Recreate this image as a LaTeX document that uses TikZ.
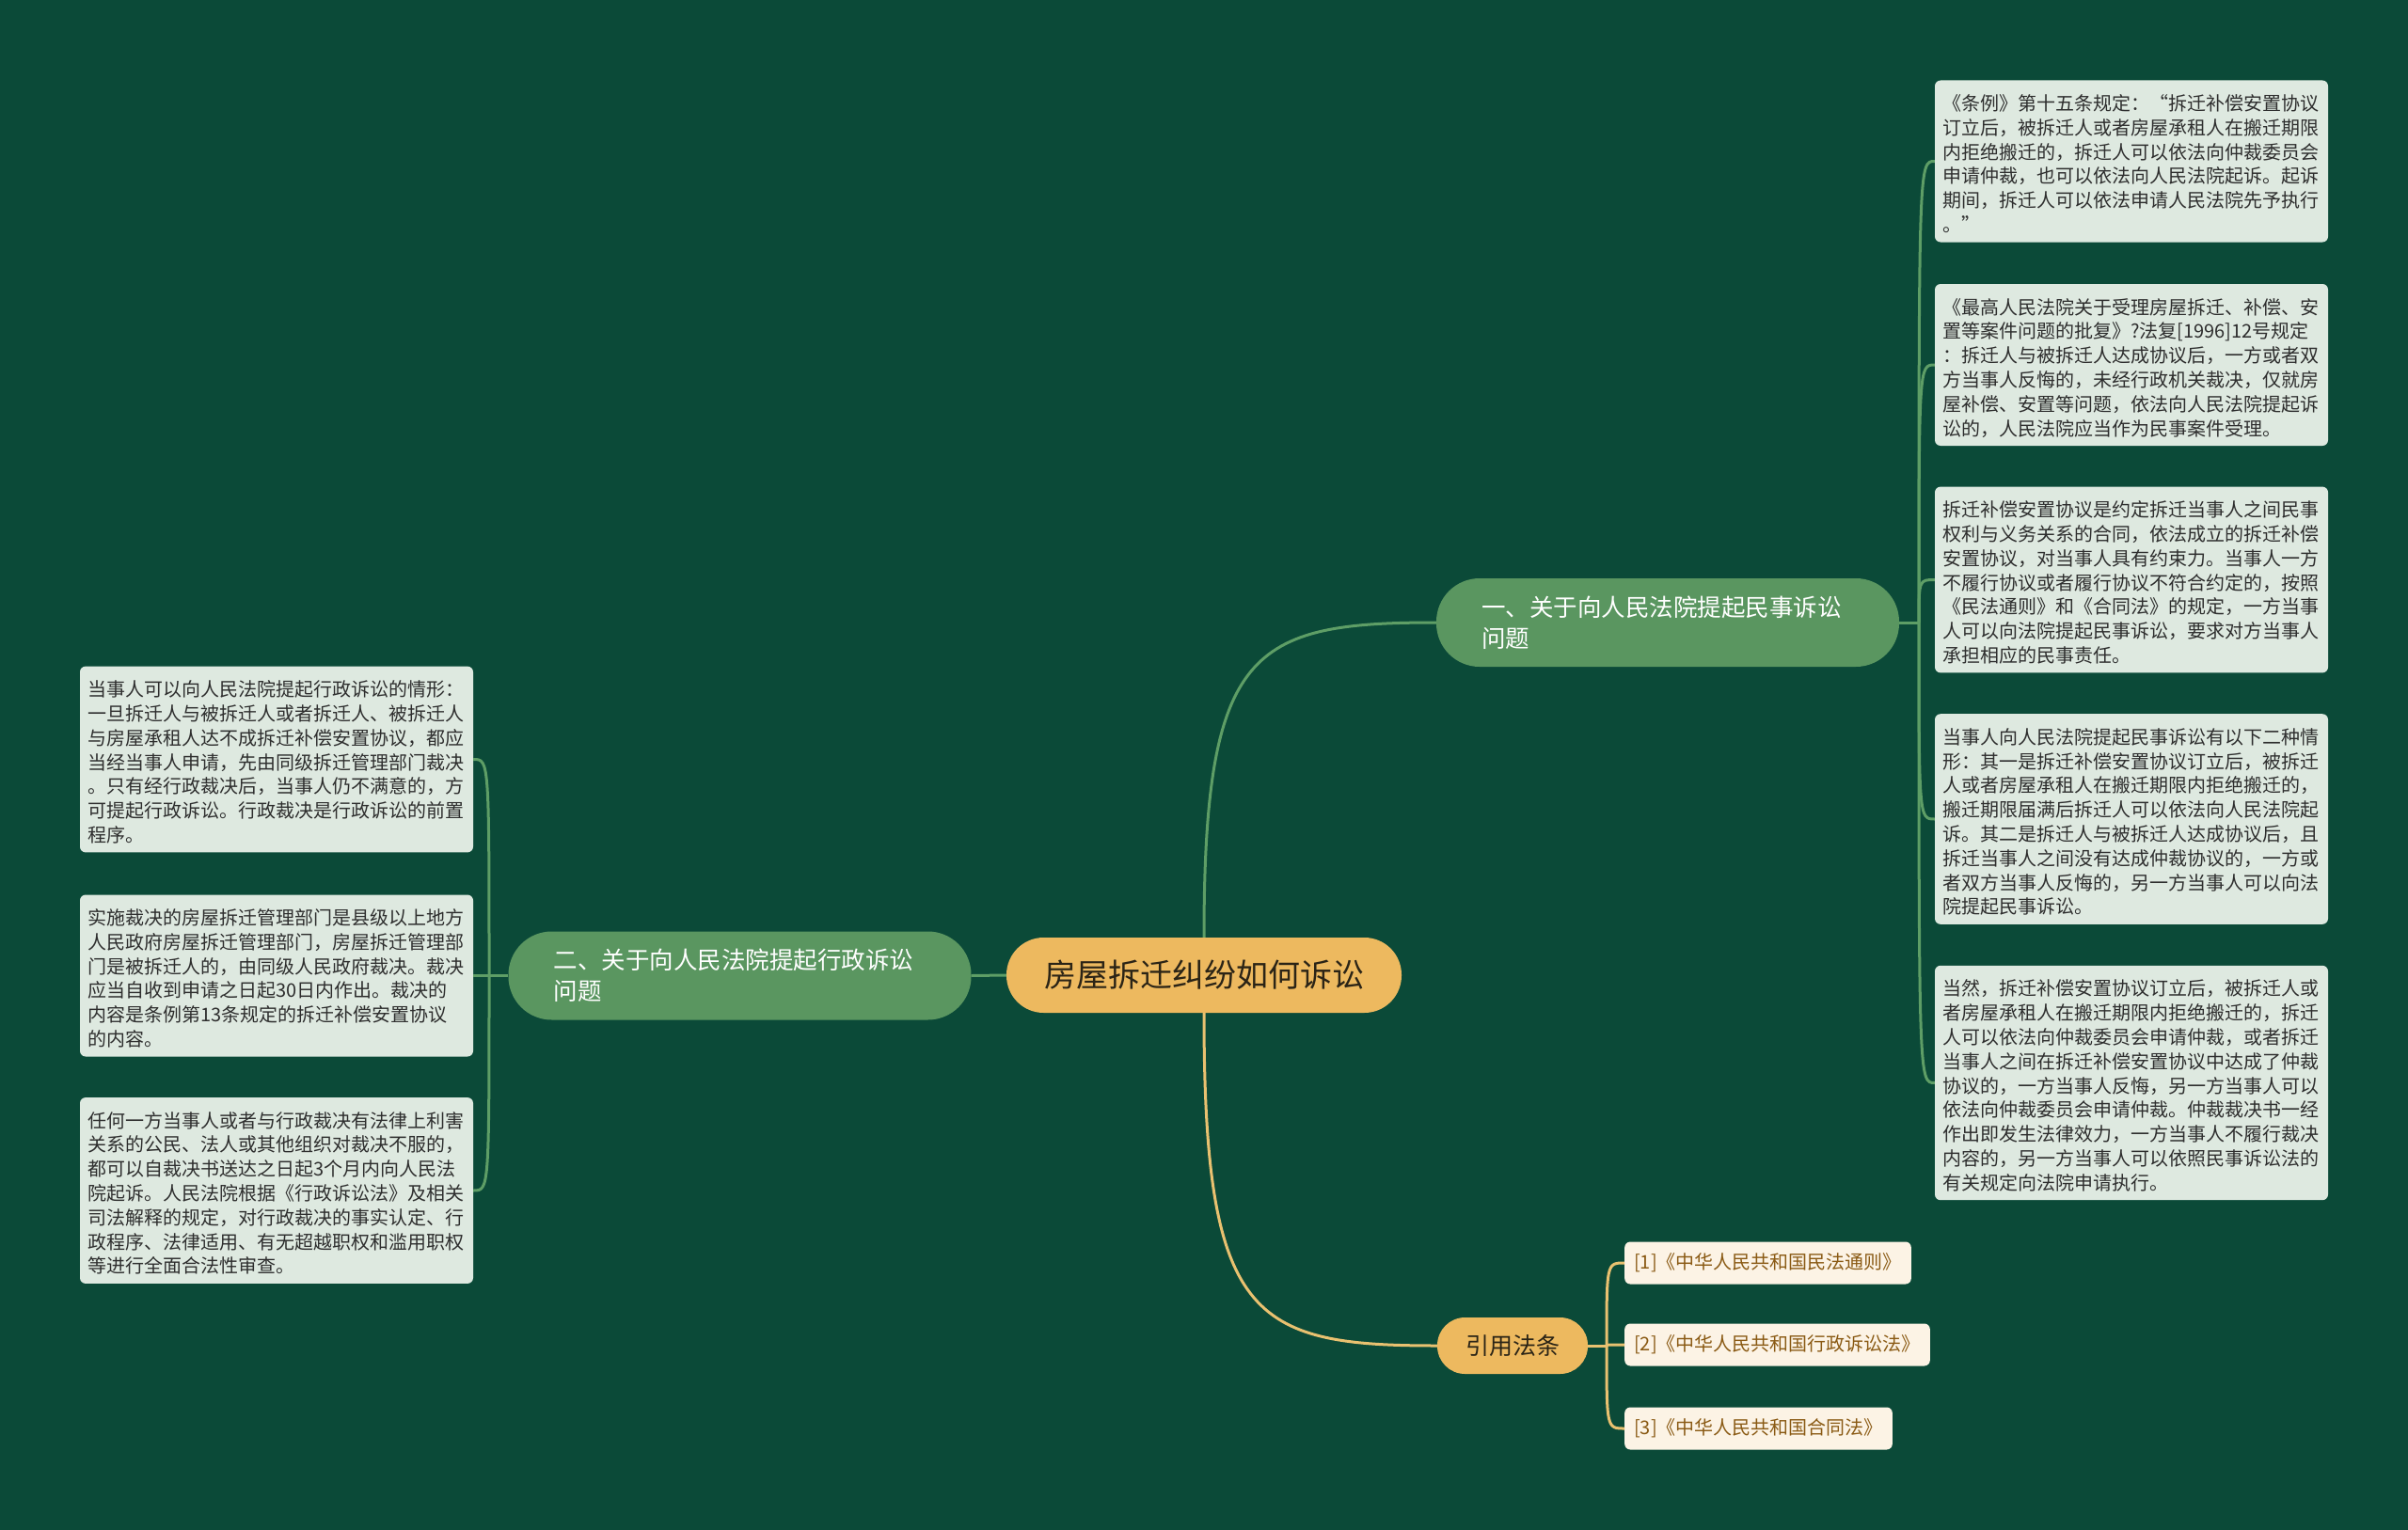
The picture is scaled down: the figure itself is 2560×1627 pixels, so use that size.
\documentclass[tikz,border=0pt]{standalone}
\usepackage{fontspec}
\setmainfont{Noto Sans CJK SC}
\definecolor{bgc}{HTML}{0B4A38}
\definecolor{brc}{HTML}{5A9660}
\definecolor{orc}{HTML}{EDB95F}
\definecolor{leafc}{HTML}{DEE9E0}
\definecolor{leaftext}{HTML}{2E2E2E}
\definecolor{citec}{HTML}{FCF3E5}
\definecolor{citetext}{HTML}{8A5A14}
\definecolor{glinec}{HTML}{5E9E66}
\definecolor{ylinec}{HTML}{E9C170}
\definecolor{maintext}{HTML}{2B2416}
\newcommand\lfirst{\rule{0pt}{25pt}}
\newcommand\llast{\rule[-4pt]{0pt}{4pt}}
\begin{document}
\begin{tikzpicture}[x=1pt,y=-1pt,
  leafbox/.style={fill=leafc, rounded corners=6pt, text=leaftext,
    font=\fontsize{20pt}{25.8pt}\selectfont, text width=402pt, align=left,
    inner xsep=8pt, inner ysep=7pt},
  brnode/.style={fill=brc, text=white, rounded corners=46pt,
    font=\fontsize{25.5pt}{33pt}\selectfont, text width=396pt, align=left,
    inner xsep=48pt, inner ysep=0pt, minimum height=94pt},
  mainnode/.style={fill=orc, text=maintext, rounded corners=39.5pt,
    minimum width=420pt, minimum height=80pt, inner sep=0pt,
    font=\fontsize{34pt}{40pt}\selectfont},
  refnode/.style={fill=orc, text=maintext, rounded corners=29.5pt,
    minimum width=160pt, minimum height=60pt, inner sep=0pt,
    font=\fontsize{25pt}{30pt}\selectfont},
  citebox/.style={fill=citec, text=citetext, rounded corners=6pt,
    font=\fontsize{20pt}{25pt}\selectfont, inner xsep=10pt, inner ysep=0pt,
    minimum height=45pt, anchor=west},
  gline/.style={draw=glinec, line width=3pt},
  yline/.style={draw=ylinec, line width=3pt}
]
\fill[bgc] (0,0) rectangle (2560,1627);
\useasboundingbox (0,0) rectangle (2560,1627);

% central node
\node[mainnode] (c) at (1280,1037) {房屋拆迁纠纷如何诉讼};

% branches
\node[brnode] (b1) at (1773,662) {一、关于向人民法院提起民事诉讼\\问题};
\node[brnode] (b2) at (786.5,1037.5) {二、关于向人民法院提起行政诉讼\\问题};
\node[refnode] (b3) at (1608,1431) {引用法条};

% right leaves
\node[leafbox] (r1) at (2266,171.5) {\lfirst{}《条例》第十五条规定\mbox{：“}拆迁补偿安置协议\\订立后，被拆迁人或者房屋承租人在搬迁期限\\内拒绝搬迁的，拆迁人可以依法向仲裁委员会\\申请仲裁，也可以依法向人民法院起诉。起诉\\期间，拆迁人可以依法申请人民法院先予执行\\。”\llast{}};
\node[leafbox] (r2) at (2266,388) {\lfirst{}《最高人民法院关于受理房屋拆迁、补偿、安\\置等案件问题的批复》?法复[1996]12号规定\\：拆迁人与被拆迁人达成协议后，一方或者双\\方当事人反悔的，未经行政机关裁决，仅就房\\屋补偿、安置等问题，依法向人民法院提起诉\\讼的，人民法院应当作为民事案件受理。\llast{}};
\node[leafbox] (r3) at (2266,616.5) {\lfirst{}拆迁补偿安置协议是约定拆迁当事人之间民事\\权利与义务关系的合同，依法成立的拆迁补偿\\安置协议，对当事人具有约束力。当事人一方\\不履行协议或者履行协议不符合约定的，按照\\《民法通则》和《合同法》的规定，一方当事\\人可以向法院提起民事诉讼，要求对方当事人\\承担相应的民事责任。\llast{}};
\node[leafbox] (r4) at (2266,871) {\lfirst{}当事人向人民法院提起民事诉讼有以下二种情\\形：其一是拆迁补偿安置协议订立后，被拆迁\\人或者房屋承租人在搬迁期限内拒绝搬迁的，\\搬迁期限届满后拆迁人可以依法向人民法院起\\诉。其二是拆迁人与被拆迁人达成协议后，且\\拆迁当事人之间没有达成仲裁协议的，一方或\\者双方当事人反悔的，另一方当事人可以向法\\院提起民事诉讼。\llast{}};
\node[leafbox] (r5) at (2266,1151.5) {\lfirst{}当然，拆迁补偿安置协议订立后，被拆迁人或\\者房屋承租人在搬迁期限内拒绝搬迁的，拆迁\\人可以依法向仲裁委员会申请仲裁，或者拆迁\\当事人之间在拆迁补偿安置协议中达成了仲裁\\协议的，一方当事人反悔，另一方当事人可以\\依法向仲裁委员会申请仲裁。仲裁裁决书一经\\作出即发生法律效力，一方当事人不履行裁决\\内容的，另一方当事人可以依照民事诉讼法的\\有关规定向法院申请执行。\llast{}};

% left leaves
\node[leafbox] (l1) at (294,807.5) {\lfirst{}当事人可以向人民法院提起行政诉讼的情形：\\一旦拆迁人与被拆迁人或者拆迁人、被拆迁人\\与房屋承租人达不成拆迁补偿安置协议，都应\\当经当事人申请，先由同级拆迁管理部门裁决\\。只有经行政裁决后，当事人仍不满意的，方\\可提起行政诉讼。行政裁决是行政诉讼的前置\\程序。\llast{}};
\node[leafbox] (l2) at (294,1037.5) {\lfirst{}实施裁决的房屋拆迁管理部门是县级以上地方\\人民政府房屋拆迁管理部门，房屋拆迁管理部\\门是被拆迁人的，由同级人民政府裁决。裁决\\应当自收到申请之日起30日内作出。裁决的\\内容是条例第13条规定的拆迁补偿安置协议\\的内容。\llast{}};
\node[leafbox] (l3) at (294,1266) {\lfirst{}任何一方当事人或者与行政裁决有法律上利害\\关系的公民、法人或其他组织对裁决不服的，\\都可以自裁决书送达之日起3个月内向人民法\\院起诉。人民法院根据《行政诉讼法》及相关\\司法解释的规定，对行政裁决的事实认定、行\\政程序、法律适用、有无超越职权和滥用职权\\等进行全面合法性审查。\llast{}};

% citations
\node[citebox] (c1) at (1727,1343) {[1]《中华人民共和国民法通则》};
\node[citebox] (c2) at (1727,1430) {[2]《中华人民共和国行政诉讼法》};
\node[citebox] (c3) at (1727,1519) {[3]《中华人民共和国合同法》};

% spine coordinates
\coordinate (rs) at (2040,662);
\coordinate (ls) at (520,1037.5);
\coordinate (cs) at (1708,1431);

% connectors from centre
\draw[gline] (c.north) .. controls (1280,690) and (1330,662) .. (b1.west);
\draw[gline] (c.west) -- (b2.east);
\draw[yline] (c.south) .. controls (1280,1402) and (1330,1431) .. (b3.west);

% right spine
\draw[gline] (b1.east) -- (rs);
\foreach \n in {r1,r2,r3,r4,r5}{
  \draw[gline] (rs) .. controls (rs |- \n.west) .. (\n.west);
}
% left spine
\draw[gline] (b2.west) -- (ls);
\foreach \n in {l1,l2,l3}{
  \draw[gline] (ls) .. controls (ls |- \n.east) .. (\n.east);
}
% citation spine
\draw[yline] (b3.east) -- (cs);
\foreach \n in {c1,c2,c3}{
  \draw[yline] (cs) .. controls (cs |- \n.west) .. (\n.west);
}
\end{tikzpicture}
\end{document}
